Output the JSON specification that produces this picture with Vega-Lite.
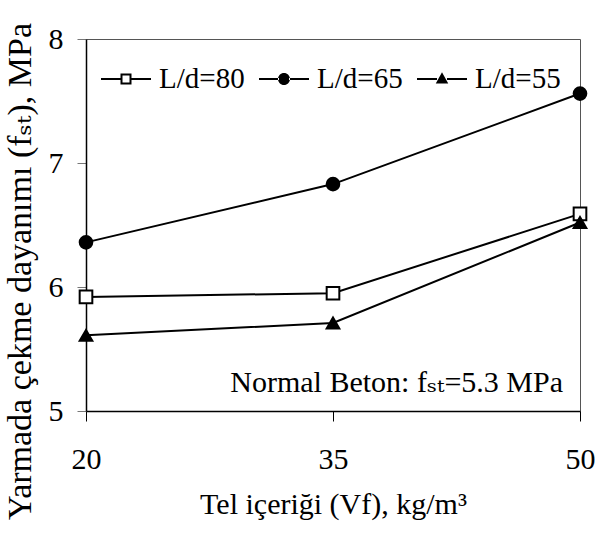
{
  "$schema": "https://vega.github.io/schema/vega-lite/v6.json",
  "width": 494,
  "height": 372,
  "autosize": "none",
  "padding": {"left": 86, "top": 39, "right": 18, "bottom": 122},
  "background": "white",
  "config": {
    "font": "Liberation Serif",
    "view": {"stroke": "#555555", "strokeWidth": 1},
    "axis": {"grid": false, "labelColor": "black", "titleColor": "black", "labelFont": "Liberation Serif", "titleFont": "Liberation Serif, DejaVu Serif", "titleFontWeight": "normal"},
    "axisX": {
      "tickSize": 10, "tickColor": "black", "domainColor": "black", "domainWidth": 1.5,
      "labelFontSize": 30, "labelPadding": 23, "labelFlush": false,
      "titleFontSize": 30, "titleY": 102, "titleBaseline": "alphabetic"
    },
    "axisY": {
      "tickSize": 9, "tickColor": "#777777", "domainColor": "black", "domainWidth": 1.5,
      "labelFontSize": 30, "labelPadding": 14,
      "titleFontSize": 34, "titleAngle": -90,
      "titleX": -56, "titleY": 232, "titleBaseline": "alphabetic", "titleAlign": "center"
    },
    "legend": {"labelFont": "Liberation Serif"},
    "text": {"font": "Liberation Serif"}
  },
  "data": {
    "values": [
      {"s": "L/d=80", "x": 20, "y": 5.92},
      {"s": "L/d=80", "x": 35, "y": 5.95},
      {"s": "L/d=80", "x": 50, "y": 6.59},
      {"s": "L/d=65", "x": 20, "y": 6.36},
      {"s": "L/d=65", "x": 35, "y": 6.83},
      {"s": "L/d=65", "x": 50, "y": 7.56},
      {"s": "L/d=55", "x": 20, "y": 5.61},
      {"s": "L/d=55", "x": 35, "y": 5.71},
      {"s": "L/d=55", "x": 50, "y": 6.52}
    ]
  },
  "layer": [
    {
      "mark": {"type": "line", "color": "black", "strokeWidth": 2},
      "encoding": {
        "x": {"field": "x", "type": "quantitative", "scale": {"domain": [20, 50], "nice": false, "zero": false}, "axis": {"values": [20, 35, 50], "format": "d", "title": "Tel içeriği (Vf), kg/m³"}},
        "y": {"field": "y", "type": "quantitative", "scale": {"domain": [5, 8], "nice": false, "zero": false}, "axis": {"values": [5, 6, 7, 8], "format": "d", "title": "Yarmada çekme dayanımı (fₛₜ), MPa"}},
        "detail": {"field": "s"}
      }
    },
    {
      "mark": {"type": "point", "filled": false, "stroke": "black", "strokeWidth": 2, "opacity": 1, "size": 160},
      "encoding": {
        "x": {"field": "x", "type": "quantitative", "scale": {"domain": [20, 50], "nice": false, "zero": false}, "axis": {"values": [20, 35, 50], "format": "d", "title": "Tel içeriği (Vf), kg/m³"}},
        "y": {"field": "y", "type": "quantitative", "scale": {"domain": [5, 8], "nice": false, "zero": false}, "axis": {"values": [5, 6, 7, 8], "format": "d", "title": "Yarmada çekme dayanımı (fₛₜ), MPa"}},
        "shape": {"field": "s", "type": "nominal", "scale": {"domain": ["L/d=80", "L/d=65", "L/d=55"], "range": ["square", "circle", "triangle-up"]}, "legend": null},
        "fill": {"field": "s", "type": "nominal", "scale": {"domain": ["L/d=80", "L/d=65", "L/d=55"], "range": ["white", "black", "black"]}, "legend": null}
      }
    },
    {
      "mark": {"type": "point", "filled": true, "color": "black", "strokeWidth": 0, "opacity": 0, "size": 150},
      "encoding": {
        "x": {"field": "x", "type": "quantitative", "scale": {"domain": [20, 50], "nice": false, "zero": false}, "axis": {"values": [20, 35, 50], "format": "d", "title": "Tel içeriği (Vf), kg/m³"}},
        "y": {"field": "y", "type": "quantitative", "scale": {"domain": [5, 8], "nice": false, "zero": false}, "axis": {"values": [5, 6, 7, 8], "format": "d", "title": "Yarmada çekme dayanımı (fₛₜ), MPa"}},
        "shape": {
          "field": "s", "type": "nominal",
          "scale": {"domain": ["L/d=80", "L/d=65", "L/d=55"], "range": [
            "M-1,-0.04H-0.22V0.04H-1Z M0.22,-0.04H1V0.04H0.22Z M-0.22,-0.22H0.22V0.22H-0.22Z M-0.14,-0.14V0.14H0.14V-0.14Z",
            "M-1,-0.04H-0.2V0.04H-1Z M0.2,-0.04H1V0.04H0.2Z M-0.24,0A0.24,0.24,0,1,0,0.24,0A0.24,0.24,0,1,0,-0.24,0Z",
            "M-1,-0.04H-0.2V0.04H-1Z M0.2,-0.04H1V0.04H0.2Z M0,-0.27L0.25,0.18H-0.25Z"
          ]},
          "legend": {
            "orient": "none", "legendX": 15, "legendY": 15, "direction": "horizontal", "title": null,
            "symbolSize": 2500, "symbolStrokeWidth": 0, "symbolFillColor": "black", "symbolOpacity": 1,
            "labelFont": "Liberation Serif", "labelFontSize": 29, "labelOffset": 8, "columnPadding": 14, "padding": 0, "labelColor": "black",
            "encode": {"symbols": {"update": {"fill": {"value": "black"}, "opacity": {"value": 1}, "fillOpacity": {"value": 1}}}}
          }
        }
      }
    },
    {
      "data": {"values": [{"t": "Normal Beton: fₛₜ=5.3 MPa"}]},
      "mark": {"type": "text", "align": "right", "baseline": "alphabetic", "dx": -17, "fontSize": 30, "font": "Liberation Serif, DejaVu Serif", "fill": "black"},
      "encoding": {
        "x": {"datum": 50, "type": "quantitative", "scale": {"domain": [20, 50], "nice": false, "zero": false}, "axis": {"values": [20, 35, 50], "format": "d", "title": "Tel içeriği (Vf), kg/m³"}},
        "y": {"datum": 5.15, "type": "quantitative", "scale": {"domain": [5, 8], "nice": false, "zero": false}, "axis": {"values": [5, 6, 7, 8], "format": "d", "title": "Yarmada çekme dayanımı (fₛₜ), MPa"}},
        "text": {"field": "t", "type": "nominal"}
      }
    }
  ],
  "resolve": {"scale": {"shape": "independent"}}
}
